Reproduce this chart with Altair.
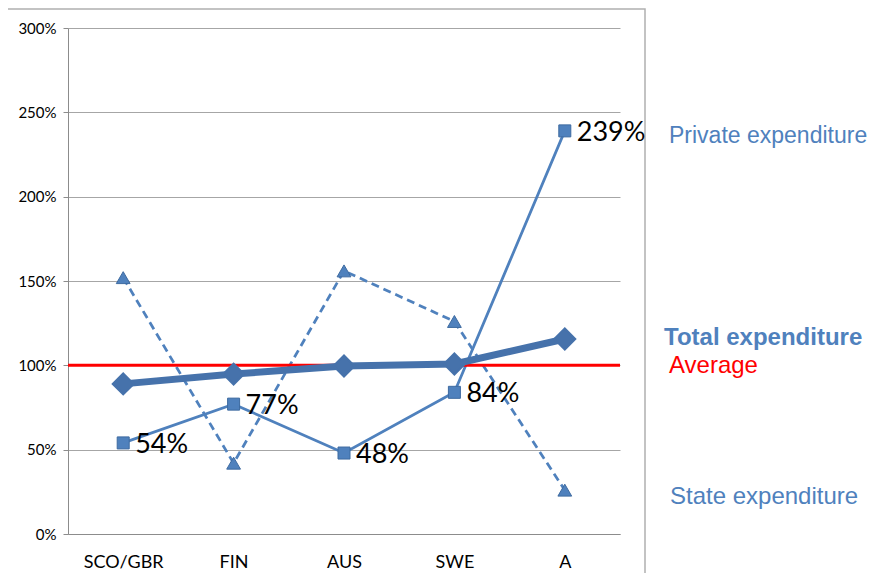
import altair as alt
import pandas as pd

countries = ["SCO/GBR", "FIN", "AUS", "SWE", "A"]
total = [0.89, 0.948, 0.996, 1.008, 1.156]
private = [0.54, 0.77, 0.48, 0.84, 2.39]
state = [1.52, 0.42, 1.56, 1.26, 0.26]
average = 1.0
y_ticks = [0, 0.5, 1.0, 1.5, 2.0, 2.5, 3.0]

df_total = pd.DataFrame({"country": countries, "value": total})
df_private = pd.DataFrame({"country": countries, "value": private,
                           "label": [f"{round(v*100)}%" for v in private]})
df_state = pd.DataFrame({"country": countries, "value": state})
df_avg = pd.DataFrame({"value": [average]})

BLUE = "#4f81bd"
BLUE_DARK = "#4672ab"
FONT = "Lato"

x_enc = alt.X("country:N", sort=countries,
              scale=alt.Scale(type="point", padding=0.5),
              axis=alt.Axis(title=None, labelAngle=0, labelFontSize=18, labelFont=FONT,
                            labelColor="#000", ticks=False, domainColor="#8c8c8c",
                            labelPadding=19, grid=False))
y_scale = alt.Scale(domain=[0, 3], nice=False)
y_enc = alt.Y("value:Q", scale=y_scale,
              axis=alt.Axis(title=None, values=y_ticks, format=".0%", labelFontSize=15,
                            labelFont=FONT, labelColor="#000", gridColor="#a6a6a6",
                            domainColor="#8c8c8c", tickColor="#8c8c8c", tickSize=5,
                            labelPadding=7))

border = alt.Chart(df_avg).mark_rect(fill=None, stroke="#b0b0b0", strokeWidth=1.5).encode(
    x=alt.value(-61), x2=alt.value(577), y=alt.value(-19), y2=alt.value(600))

state_line = alt.Chart(df_state).mark_line(color=BLUE, strokeWidth=2.75, strokeDash=[8, 5]).encode(
    x=x_enc, y=y_enc)
state_pts = alt.Chart(df_state).mark_point(shape="triangle-up", size=190, filled=True,
                                           fill=BLUE, stroke="#3d6aa0", strokeWidth=1, opacity=1).encode(
    x=alt.X("country:N", sort=countries), y=alt.Y("value:Q"))

priv_line = alt.Chart(df_private).mark_line(color=BLUE, strokeWidth=2.75).encode(
    x=alt.X("country:N", sort=countries), y=alt.Y("value:Q"))
priv_pts = alt.Chart(df_private).mark_point(shape="square", size=144, filled=True,
                                            fill=BLUE, stroke="#3d6aa0", strokeWidth=1, opacity=1).encode(
    x=alt.X("country:N", sort=countries), y=alt.Y("value:Q"))
priv_text = alt.Chart(df_private).mark_text(align="left", baseline="middle", dx=12, dy=2,
                                            fontSize=27, font=FONT, color="#000").encode(
    x=alt.X("country:N", sort=countries), y=alt.Y("value:Q"), text="label:N")

avg_rule = alt.Chart(df_avg).mark_rule(color="#ff0000", strokeWidth=3).encode(
    y=alt.Y("value:Q"), x=alt.value(0), x2=alt.value(552))

total_line = alt.Chart(df_total).mark_line(color=BLUE_DARK, strokeWidth=7).encode(
    x=alt.X("country:N", sort=countries), y=alt.Y("value:Q"))
total_pts = alt.Chart(df_total).mark_point(shape="diamond", size=441, filled=True,
                                           fill=BLUE_DARK, stroke=BLUE_DARK, opacity=1).encode(
    x=alt.X("country:N", sort=countries), y=alt.Y("value:Q"))

def label(txt, x, y, color, bold=False, size=24):
    return alt.Chart(df_avg).mark_text(text=txt, align="left", baseline="middle",
                                       fontSize=size, font="Liberation Sans", color=color,
                                       fontWeight="bold" if bold else "normal").encode(
        x=alt.value(x), y=alt.value(y))

labels = (label("Private expenditure", 601, 108, BLUE, size=23)
          + label("Total expenditure", 596, 310, BLUE, True)
          + label("Average", 601, 338, "#ff0000")
          + label("State expenditure", 602, 469, BLUE))

chart = alt.layer(
    border, state_line, state_pts, priv_line, priv_pts, avg_rule,
    total_line, total_pts, priv_text, labels
).properties(
    width=552, height=506,
    autosize=alt.AutoSizeParams(type="none"),
    padding={"left": 60, "top": 20, "right": 255, "bottom": 39},
    background="white"
).configure_view(stroke=None)

chart.save("out.html", embed_options={"renderer": "svg", "actions": False})
